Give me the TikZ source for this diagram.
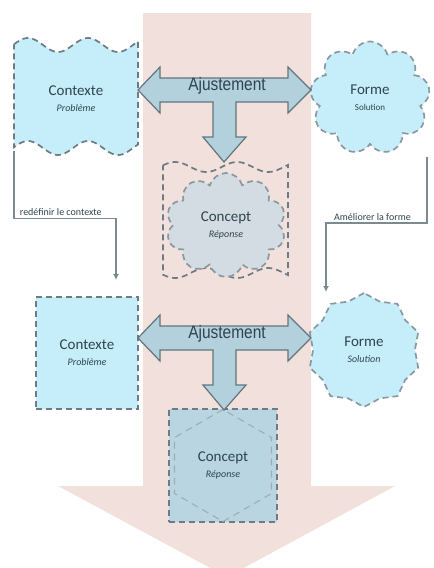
\documentclass[tikz,border=0pt]{standalone}
\usepackage{fontspec}
\setmainfont{Carlito}
\newfontfamily\ajfont[FakeStretch=0.86]{Liberation Sans}
\usepackage{tikz}
\usetikzlibrary{arrows.meta,shapes.symbols,shapes.geometric}
\tikzset{>={Latex[width=6pt,length=6pt]}}

\definecolor{pinkbg}{HTML}{F2E0DD}
\definecolor{cyanfill}{HTML}{C6EEFA}
\definecolor{dashgray}{HTML}{6C7C84}
\definecolor{dashlight}{HTML}{8A989F}
\definecolor{arrowfill}{HTML}{B3D1DC}
\definecolor{arrowline}{HTML}{62757D}
\definecolor{conceptA}{HTML}{D4DCE3}
\definecolor{conceptB}{HTML}{B8D5E1}
\definecolor{txt}{HTML}{2F444E}
\definecolor{linkgray}{HTML}{7B8B91}

\newcommand\subtxt{\fontsize{10}{12}\selectfont\itshape}

\tikzset{
  dashbox/.style={draw=dashgray, line width=1.7pt, dash pattern=on 6pt off 4pt},
  title/.style={font=\fontsize{15}{16}\selectfont, text=txt, align=center, inner sep=0pt},
  ajtext/.style={font=\ajfont\fontsize{18}{20}\selectfont, text=txt},
  linktext/.style={font=\fontsize{10}{12}\selectfont, text=txt, inner sep=2pt},
  link/.style={draw=linkgray, line width=1.5pt, ->},
  ajust/.style={fill=arrowfill, draw=arrowline, line width=1.2pt, line join=miter}
}

\begin{document}
\begin{tikzpicture}[x=1pt, y=-1pt]

  \newcommand\Tarrow[1]{%
    \draw[ajust, shift={(0,#1)}] (138,90) -- (160,67) -- (160,78) -- (288,78) -- (288,67)
      -- (311,90) -- (288,113) -- (288,102) -- (236,102) -- (236,137) -- (246,137)
      -- (224,162) -- (203,137) -- (213,137) -- (213,102) -- (160,102) -- (160,113) -- cycle;}

  \clip (0,0) rectangle (434,568);

  % grande fleche de fond
  \fill[pinkbg] (143,13) -- (311,13) -- (311,486) -- (395,486) -- (227,577)
    -- (58,486) -- (143,486) -- cycle;

  % premier tour
  \draw[dashbox, fill=cyanfill]
    plot[domain=14:138, samples=60] (\x, {45-7*sin(6*(\x-14)+6)})
    -- plot[domain=138:14, samples=60] (\x, {148-7*sin(6*(\x-14)+6)}) -- cycle;
  \node[title, minimum width=124pt, minimum height=103pt] (ctxA) at (76,99)
    {Contexte\\{\subtxt Problème}};

  \node[cloud, cloud puffs=9, aspect=1.05, dashbox, draw=dashlight, fill=cyanfill,
    minimum width=120pt, minimum height=113pt, title] (formeA) at (370,98)
    {Forme\\{\fontsize{9}{11}\selectfont Solution}};

  \draw[dashbox]
    plot[domain=163:288, samples=60] (\x, {167-5*sin(5.8*(\x-163)+20)})
    -- plot[domain=288:163, samples=60] (\x, {273-5*sin(5.8*(\x-163)+200)}) -- cycle;
  \node[cloud, cloud puffs=10, aspect=1.15, dashbox, draw=dashlight, fill=conceptA,
    minimum width=120pt, minimum height=104pt, title] (concA) at (226,225)
    {Concept\\{\subtxt Réponse}};

  \Tarrow{0}
  \node[ajtext] (ajA) at (227,86) {Ajustement};

  % deuxieme tour
  \node[dashbox, fill=cyanfill, minimum width=102pt, minimum height=112pt, title]
    (ctxB) at (87,353) {Contexte\\{\subtxt Problème}};

  \node[star, star points=10, star point ratio=1.12, dashbox, draw=dashlight,
    fill=cyanfill, minimum size=114pt, title] (formeB) at (364,350)
    {Forme\\{\subtxt Solution}};

  \node[dashbox, fill=conceptB, minimum width=108pt, minimum height=113pt, title]
    (concB) at (223,465.5) {Concept\\{\subtxt Réponse}};
  \node[regular polygon, regular polygon sides=6, shape border rotate=30,
    minimum size=112pt, inner sep=0pt, draw=dashlight!80!white, line width=1.1pt,
    dash pattern=on 7pt off 5pt] (hexB) at (concB) {};

  \Tarrow{248}
  \node[ajtext] (ajB) at (227,334) {Ajustement};

  % liens entre les tours
  \coordinate (redefEnd) at (116,280);
  \coordinate (formeOut) at (427,157);
  \coordinate (amelEnd) at (326,292);
  \draw[link] (ctxA.south west) -- ++(0,68)
    -| node[pos=0.23, above, linktext] {redéfinir le contexte} (redefEnd);
  \draw[link] (formeOut) -- ++(0,66)
    -| node[pos=0.27, above, linktext] {Améliorer la forme} (amelEnd);

\end{tikzpicture}
\end{document}
